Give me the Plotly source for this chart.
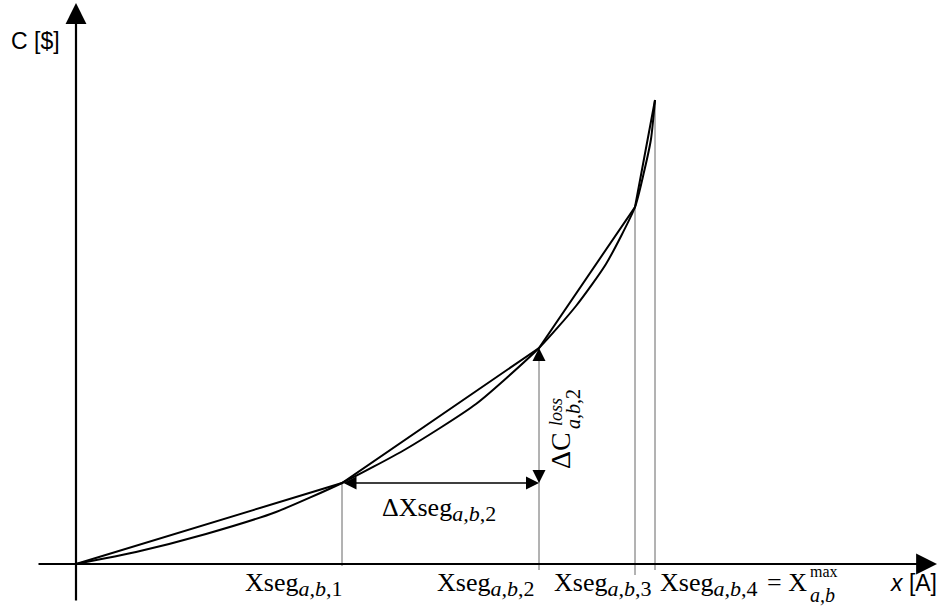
import plotly.graph_objects as go

# Segment breakpoints (x in A, C in $; arbitrary units)
seg_x = [0, 266, 463, 559, 579]
seg_y = [0, 81, 216, 357, 464]

# Convex cost curve
curve_x = [0, 60, 130, 200, 266, 330, 400, 463, 500, 530, 559, 568, 575, 579]
curve_y = [0, 12, 30, 52, 81, 115, 160, 216, 258, 300, 357, 392, 425, 464]

seg_index = ["1", "2", "3", "4"]

SERIF = "Liberation Serif"
SANS = "Liberation Sans"
OX, OY = 76, 564  # pixel position of origin
MAIN, SUB = 26, 22


def P(px, py):
    return px - OX, OY - py


def sub(t):
    return "<sub><span style='font-size:%dpx'>%s</span></sub>" % (SUB, t)


fig = go.Figure()

# vertical guide lines at breakpoints
drop = [-2, -6, -11, -6]
for i in range(1, 5):
    fig.add_trace(go.Scatter(x=[seg_x[i], seg_x[i]], y=[seg_y[i], drop[i - 1]],
                             mode="lines", line=dict(color="#666666", width=1),
                             hoverinfo="skip", showlegend=False))

# curve
fig.add_trace(go.Scatter(x=curve_x, y=curve_y, mode="lines",
                         line=dict(color="black", width=2, shape="spline", smoothing=0.6),
                         showlegend=False))
# piecewise-linear approximation
fig.add_trace(go.Scatter(x=seg_x, y=seg_y, mode="lines",
                         line=dict(color="black", width=2), showlegend=False))

ann = []


def arrow(x, y, ax, ay, w=2.0, s=1.5, color="black", both=False):
    d = dict(x=x, y=y, ax=ax, ay=ay, xref="x", yref="y", axref="x", ayref="y",
             text="", showarrow=True, arrowhead=2, arrowsize=s, arrowwidth=w,
             arrowcolor=color, standoff=0)
    if both:
        d.update(arrowside="end+start", startstandoff=0)
    ann.append(d)


def text(px, py, t, size, family=SERIF, xanchor="left", angle=0):
    x, y = P(px, py)
    ann.append(dict(x=x, y=y, xref="x", yref="y", text=t, showarrow=False,
                    xanchor=xanchor, yanchor="middle", textangle=angle,
                    borderpad=0,
                    font=dict(family=family, size=size, color="black")))


# axes arrows
arrow(*P(937, 564), *P(37, 564), w=2.2, s=1.9)
arrow(*P(76, 3), *P(76, 602), w=2.2, s=1.9)

# delta arrows
arrow(seg_x[2], seg_y[1], seg_x[1], seg_y[1], w=1.3, s=2.0, both=True)
arrow(seg_x[2], seg_y[2], seg_x[2], seg_y[2] - 14, w=1.3, s=2.0)
arrow(seg_x[2], seg_y[1], seg_x[2], seg_y[1] + 14, w=1.3, s=2.0)

# axis titles
text(10, 41, "C [$]", 23, family=SANS)
text(889, 583, "<i>x</i> [A]", 23, family=SANS)

# segment labels
main_left = [244, 436, 553, 659]
for ml, k in zip(main_left, seg_index):
    text(ml, 584, "Xseg" + sub("<i>a,b</i>," + k), MAIN)
text(808, 582, "= X", MAIN, xanchor="right")
text(809, 571, "max", 16)
text(809, 595, "<i>a,b</i>", 20)

# delta labels
text(381, 509, "ΔXseg" + sub("<i>a,b</i>,2"), MAIN)
text(560, 451, "ΔC", 28, xanchor="center", angle=-90)
text(556, 412, "<i>loss</i>", 18, xanchor="center", angle=-90)
text(573, 409, "<i>a,b</i>,2", 20, xanchor="center", angle=-90)

fig.update_layout(
    width=937, height=608, margin=dict(l=0, r=0, t=0, b=0),
    paper_bgcolor="white", plot_bgcolor="white",
    xaxis=dict(range=[-OX, 937 - OX], visible=False, fixedrange=True),
    yaxis=dict(range=[OY - 608, OY], visible=False, fixedrange=True),
    annotations=ann, showlegend=False,
)

fig.write_html("out.html", config={"displayModeBar": False},
               post_script="document.body.style.margin='0';")
